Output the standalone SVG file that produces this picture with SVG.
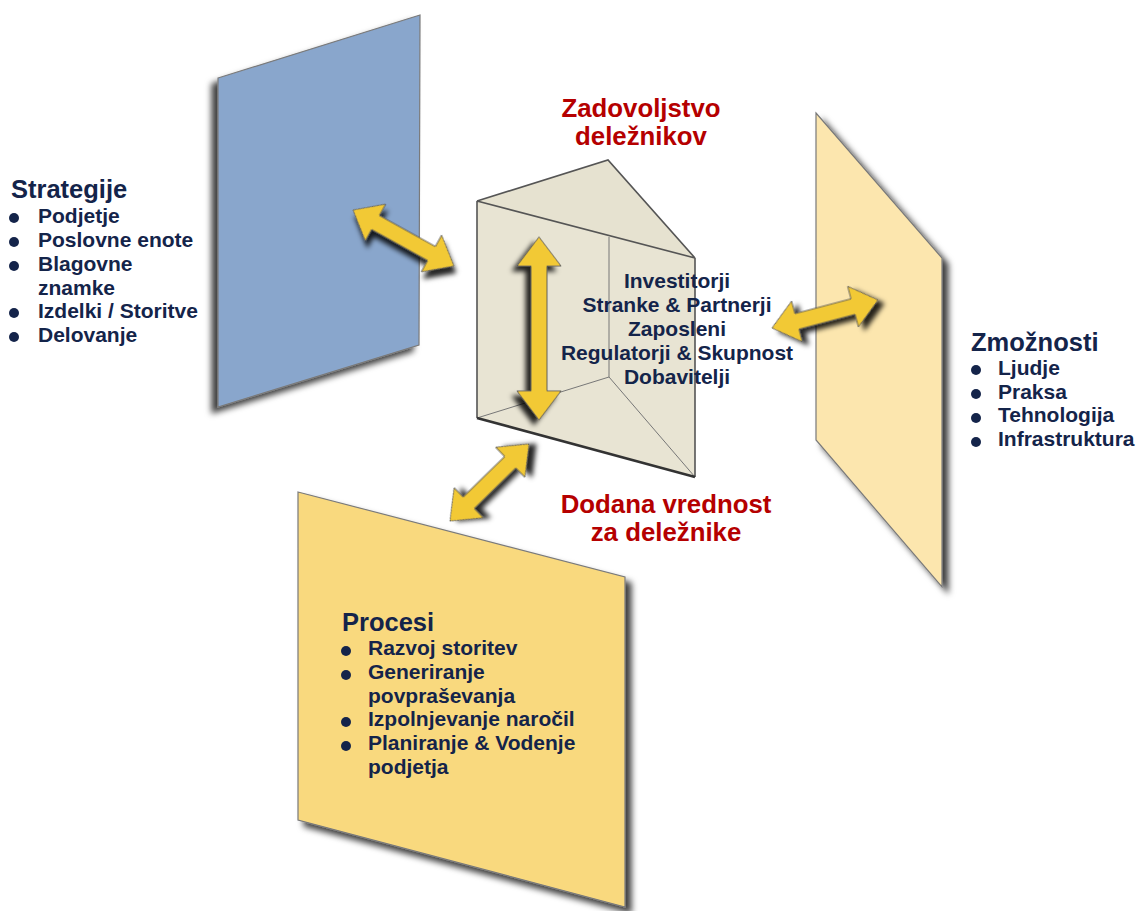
<svg xmlns="http://www.w3.org/2000/svg" width="1137" height="911" viewBox="0 0 1137 911">
  <defs>
    <filter id="shadowL" x="-20%" y="-20%" width="140%" height="140%">
      <feDropShadow dx="-6" dy="6" stdDeviation="3" flood-color="#000" flood-opacity="0.75"/>
    </filter>
    <filter id="shadowR" x="-20%" y="-20%" width="140%" height="140%">
      <feDropShadow dx="6" dy="6" stdDeviation="3" flood-color="#000" flood-opacity="0.75"/>
    </filter>
    <filter id="arrowShadow" x="-30%" y="-30%" width="160%" height="160%">
      <feDropShadow dx="5" dy="5" stdDeviation="2.5" flood-color="#000" flood-opacity="0.85"/>
    </filter>
  </defs>
  <style>
    .panel { stroke: #7a7a7a; stroke-width: 1.2; }
    .txt { font-family: "Liberation Sans", Arial, sans-serif; font-weight: bold; fill: #14244a; }
    .title { font-size: 25.5px; }
    .item { font-size: 21px; }
    .red { font-family: "Liberation Sans", Arial, sans-serif; font-weight: bold; fill: #b50000; font-size: 25.8px; text-anchor: middle; }
    .stake { font-size: 21px; text-anchor: middle; }
    .bullet { fill: #14244a; }
    .arrow { fill: #f2c934; stroke: #555; stroke-width: 0.9; stroke-linejoin: miter; filter: url(#arrowShadow); }
    .edge { stroke: #555; stroke-width: 1.6; fill: none; }
    .edge-thin { stroke: #777; stroke-width: 1; fill: none; }
  </style>

  <!-- Strategije panel -->
  <g id="strategije">
    <polygon class="panel" points="218,78 420,15 419,345 218,407" fill="#89a6cc" filter="url(#shadowL)"/>
    <text class="txt title" x="11" y="198">Strategije</text>
    <circle class="bullet" cx="14" cy="218" r="5"/>
    <circle class="bullet" cx="14" cy="242" r="5"/>
    <circle class="bullet" cx="14" cy="266" r="5"/>
    <circle class="bullet" cx="14" cy="313" r="5"/>
    <circle class="bullet" cx="14" cy="337" r="5"/>
    <text class="txt item" x="38" y="223">Podjetje</text>
    <text class="txt item" x="38" y="247">Poslovne enote</text>
    <text class="txt item" x="38" y="271">Blagovne</text>
    <text class="txt item" x="38" y="295">znamke</text>
    <text class="txt item" x="38" y="318">Izdelki / Storitve</text>
    <text class="txt item" x="38" y="342">Delovanje</text>
  </g>

  <!-- Zmožnosti panel -->
  <g id="zmoznosti">
    <polygon class="panel" points="816,113 942,258 942,587 816,440" fill="#fce6ae" filter="url(#shadowR)"/>
    <text class="txt title" x="971" y="351">Zmožnosti</text>
    <circle class="bullet" cx="976" cy="370" r="5"/>
    <circle class="bullet" cx="976" cy="394" r="5"/>
    <circle class="bullet" cx="976" cy="418" r="5"/>
    <circle class="bullet" cx="976" cy="442" r="5"/>
    <text class="txt item" x="998" y="375">Ljudje</text>
    <text class="txt item" x="998" y="399">Praksa</text>
    <text class="txt item" x="998" y="422">Tehnologija</text>
    <text class="txt item" x="998" y="446">Infrastruktura</text>
  </g>

  <!-- Procesi panel -->
  <g id="procesi">
    <polygon class="panel" points="298,492 625,577 625,907 298,820" fill="#f9d97e" filter="url(#shadowR)"/>
    <text class="txt title" x="342" y="631">Procesi</text>
    <circle class="bullet" cx="346" cy="651" r="5"/>
    <circle class="bullet" cx="346" cy="675" r="5"/>
    <circle class="bullet" cx="346" cy="722" r="5"/>
    <circle class="bullet" cx="346" cy="746" r="5"/>
    <text class="txt item" x="368" y="655">Razvoj storitev</text>
    <text class="txt item" x="368" y="679">Generiranje</text>
    <text class="txt item" x="368" y="703">povpraševanja</text>
    <text class="txt item" x="368" y="726">Izpolnjevanje naročil</text>
    <text class="txt item" x="368" y="750">Planiranje &amp; Vodenje</text>
    <text class="txt item" x="368" y="774">podjetja</text>
  </g>

  <!-- Central prism -->
  <g id="prizma">
    <polygon points="477,201 608,160 695,258 695,477 477,418" fill="#e8e4d3"/>
    <polygon points="477,201 608,160 695,258" fill="#e6e2d0"/>
    <path class="edge-thin" d="M609,237 V377 M477,418 L609,377 L695,477"/>
    <path class="edge" d="M477,201 L608,160 L695,258 M477,201 L695,258 M477,201 V418 M695,258 V477"/>
    <path d="M477,418 L695,477" stroke="#333" stroke-width="2.6" fill="none"/>
    <text class="txt stake" x="677" y="288">Investitorji</text>
    <text class="txt stake" x="677" y="312">Stranke &amp; Partnerji</text>
    <text class="txt stake" x="677" y="336">Zaposleni</text>
    <text class="txt stake" x="677" y="360">Regulatorji &amp; Skupnost</text>
    <text class="txt stake" x="677" y="384">Dobavitelji</text>
  </g>

  <!-- Headings of the prism faces -->
  <g id="zadovoljstvo">
    <text class="red" x="641" y="117">Zadovoljstvo</text>
    <text class="red" x="641" y="145">deležnikov</text>
  </g>
  <g id="dodana-vrednost">
    <text class="red" x="666" y="513">Dodana vrednost</text>
    <text class="red" x="666" y="541">za deležnike</text>
  </g>

  <!-- Double-headed connectors -->
  <g id="connectors">
    <!-- vertical arrow inside the prism -->
    <polygon class="arrow" transform="translate(539,328.5) rotate(90)"
      points="-91.5,0 -62.5,-22 -62.5,-8 62.5,-8 62.5,-22 91.5,0 62.5,22 62.5,8 -62.5,8 -62.5,22"/>
    <!-- Strategije to prism -->
    <polygon class="arrow" transform="translate(403.5,238) rotate(29)"
      points="-57.7,0 -32,-21 -32,-8 32,-8 32,-21 57.7,0 32,21 32,8 -32,8 -32,21"/>
    <!-- prism to Zmožnosti -->
    <polygon class="arrow" transform="translate(825,314) rotate(-14.8)"
      points="-54.8,0 -29,-21 -29,-8 29,-8 29,-21 54.8,0 29,21 29,8 -29,8 -29,21"/>
    <!-- prism to Procesi -->
    <polygon class="arrow" transform="translate(489.5,482.5) rotate(-44.3)"
      points="-55.2,0 -29,-21 -29,-8 29,-8 29,-21 55.2,0 29,21 29,8 -29,8 -29,21"/>
  </g>
</svg>
